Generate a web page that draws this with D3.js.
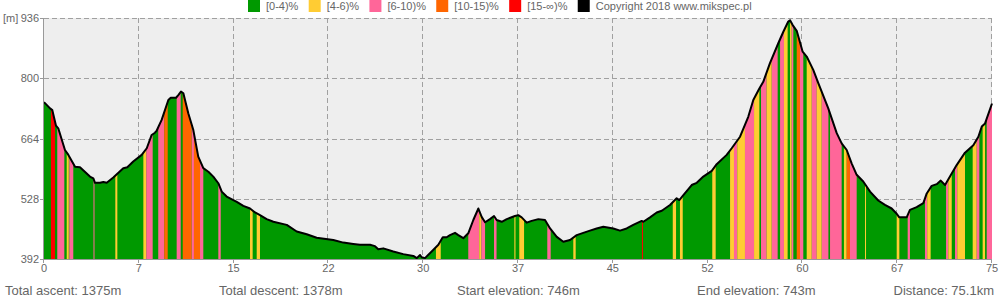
<!DOCTYPE html>
<html>
<head>
<meta charset="utf-8">
<script src="https://cdn.jsdelivr.net/npm/d3@7/dist/d3.min.js"></script>
<style>
body { margin: 0; background: #fff; }
text { font-family: Arial, "Liberation Sans", sans-serif; }
</style>
</head>
<body>
<svg id="chart" width="1000" height="300"></svg>
<script>
// profile: distance (km) and elevation (m)
var distKm = [0.00,0.48,0.66,0.95,1.13,1.66,1.93,2.46,2.85,3.64,3.91,4.04,4.44,4.70,4.97,5.49,6.28,6.60,7.07,7.74,
  8.14,8.53,8.79,8.93,9.32,9.85,10.04,10.46,10.64,10.85,11.04,11.43,11.83,12.22,12.62,13.02,13.41,13.81,14.08,14.47,
  15.27,15.79,16.32,16.72,17.11,17.64,18.17,19.23,20.02,20.81,21.60,22.92,23.71,24.50,25.03,25.83,26.22,26.48,26.88,27.67,
  28.46,29.26,29.53,29.79,29.92,30.18,30.71,31.24,31.59,31.90,32.16,32.56,32.82,33.22,33.61,34.01,34.41,34.67,34.94,35.33,
  35.65,35.86,36.26,36.66,37.31,37.57,37.84,38.24,38.63,39.16,39.69,40.09,40.62,41.14,41.67,42.20,42.72,43.25,43.78,44.31,
  45.10,45.63,46.16,46.68,47.35,47.48,48.01,48.54,48.94,49.59,50.12,50.33,50.65,51.31,51.71,52.23,52.90,53.29,54.08,54.48,
  55.14,55.79,56.19,56.67,56.98,57.51,58.17,58.57,58.96,59.10,59.31,59.63,60.10,60.42,60.94,61.34,62.13,62.80,63.19,63.59,
  63.98,64.38,64.90,65.44,66.09,66.62,67.15,67.55,67.76,68.34,68.60,69.13,69.66,69.93,70.32,70.72,71.04,71.38,71.77,72.30,
  72.96,73.62,74.02,74.29,74.55,75.10];
var elevM = [746,732,728,693,687,638,627,600,599,578,574,564,564,566,564,576,597,599,612,627,
  642,672,677,682,706,751,756,756,762,770,766,721,683,623,597,589,578,563,544,533,
  521,512,506,497,491,482,476,469,454,448,440,435,429,426,424,424,421,414,416,409,
  403,399,394,401,396,394,409,424,441,441,446,451,446,439,450,480,506,487,475,482,
  489,480,476,482,489,491,486,474,478,482,480,461,442,431,435,446,451,456,461,465,
  461,456,461,469,478,476,486,497,501,514,529,525,536,559,564,578,591,606,627,642,
  668,713,751,777,792,834,879,905,928,931,920,907,860,849,819,789,732,676,653,638,
  608,582,567,544,524,514,506,494,486,486,503,509,518,540,557,561,569,559,578,604,
  632,649,668,691,698,743];

// gradient class stripes (class index into gradeNames), everything else is class 0
var stripeFrom = [0.55,1.05,1.80,2.00,3.92,5.65,7.87,8.10,9.05,9.53,10.51,10.99,11.70,11.88,12.36,13.81,16.32,16.85,31.05,33.61,
  34.48,34.64,35.65,37.26,37.65,39.87,41.93,47.37,49.81,50.38,52.94,54.35,54.66,54.92,55.53,56.25,56.80,57.25,57.65,58.31,
  58.62,59.10,59.23,59.63,59.89,60.42,60.82,61.22,61.61,62.27,63.37,63.59,63.85,65.04,67.55,68.42,69.79,69.97,71.46,71.64,
  72.17,72.35,73.57,73.89,74.36,74.68];
var stripeTo = [0.87,1.61,1.96,2.32,4.00,5.81,8.10,8.61,9.53,9.80,10.83,11.70,11.88,12.36,12.62,14.00,16.53,17.11,31.43,34.48,
  34.64,34.94,35.85,37.35,38.03,40.14,42.12,47.45,50.07,50.60,53.21,54.66,54.92,55.53,56.25,56.67,57.25,57.65,58.12,58.62,
  58.91,59.23,59.36,59.89,60.15,60.82,61.22,61.61,62.14,63.19,63.59,63.85,64.38,65.12,67.76,68.60,69.97,70.24,71.64,71.91,
  72.35,72.96,73.89,74.10,74.55,75.10];
var stripeCls = [4,2,1,2,2,1,1,2,2,3,2,3,2,3,2,2,1,1,1,2,
  1,2,2,1,1,2,1,4,1,1,1,1,2,1,2,1,2,1,2,2,
  1,1,2,3,2,1,2,1,2,2,1,3,2,1,1,2,2,1,2,1,
  2,1,1,2,1,2];

var gradeNames = ["[0-4)%", "[4-6)%", "[6-10)%", "[10-15)%", "[15-\u221e)%"];
var gradeColors = ["#009900", "#ffcc33", "#ff6699", "#ff6600", "#ff0000"];
var copyright = "Copyright 2018 www.mikspec.pl";

var yTicks = [392, 528, 664, 800, 936];
var totalDist = 75.1;
var statLabels = ["Total ascent: 1375m", "Total descent: 1378m", "Start elevation: 746m", "End elevation: 743m", "Distance: 75.1km"];

var svg = d3.select("#chart");
var pL = 44, pR = 992, pT = 18, pB = 259;

var x = d3.scaleLinear().domain([0, totalDist]).range([pL, pR]);
var y = d3.scaleLinear().domain([392, 936]).range([pB, pT]);

var pts = distKm.map(function(d, i) { return [d, elevM[i]]; });

// plot background
svg.append("rect").attr("x", pL).attr("y", pT)
  .attr("width", pR - pL).attr("height", pB - pT).attr("fill", "#eeeeee");

// grid
var xTicks = d3.range(11).map(function(i) { return i * totalDist / 10; });
var grid = svg.append("g").attr("stroke", "#a0a0a0").attr("stroke-dasharray", "5,3").attr("stroke-width", 1);
grid.selectAll("line.gx").data(xTicks.slice(1)).enter().append("line")
  .attr("x1", function(d) { return Math.round(x(d)) - 0.5; }).attr("x2", function(d) { return Math.round(x(d)) - 0.5; })
  .attr("y1", pT).attr("y2", pB);
grid.selectAll("line.gy").data(yTicks.slice(1)).enter().append("line")
  .attr("y1", function(d) { return Math.round(y(d)) + 0.5; }).attr("y2", function(d) { return Math.round(y(d)) + 0.5; })
  .attr("x1", pL).attr("x2", pR);

// area
var area = d3.area().x(function(d) { return x(d[0]); }).y0(y(392)).y1(function(d) { return y(d[1]); });
var line = d3.line().x(function(d) { return x(d[0]); }).y(function(d) { return y(d[1]); });

svg.append("clipPath").attr("id", "profclip").append("path").attr("d", area(pts));
svg.append("path").attr("d", area(pts)).attr("fill", gradeColors[0]);

svg.append("g").attr("clip-path", "url(#profclip)")
  .selectAll("rect").data(stripeFrom).enter().append("rect")
  .attr("x", function(d) { return x(d); })
  .attr("width", function(d, i) { return x(stripeTo[i]) - x(d); })
  .attr("y", pT).attr("height", pB - pT)
  .attr("fill", function(d, i) { return gradeColors[stripeCls[i]]; });

svg.append("path").attr("d", line(pts)).attr("fill", "none")
  .attr("stroke", "#000").attr("stroke-width", 2).attr("stroke-linejoin", "round");

// axes
var axes = svg.append("g").attr("stroke", "#999").attr("stroke-width", 1);
axes.append("line").attr("x1", pL - 0.5).attr("x2", pL - 0.5).attr("y1", pT).attr("y2", pB + 4);
axes.append("line").attr("x1", pL - 4).attr("x2", pR).attr("y1", pB + 0.5).attr("y2", pB + 0.5);
axes.selectAll("line.ty").data(yTicks).enter().append("line")
  .attr("x1", pL - 4).attr("x2", pL)
  .attr("y1", function(d) { return Math.round(y(d)) + 0.5; }).attr("y2", function(d) { return Math.round(y(d)) + 0.5; });
axes.selectAll("line.tx").data(xTicks).enter().append("line")
  .attr("x1", function(d) { return Math.round(x(d)) - 0.5; }).attr("x2", function(d) { return Math.round(x(d)) - 0.5; })
  .attr("y1", pB).attr("y2", pB + 4);

svg.selectAll("text.yl").data(yTicks).enter().append("text")
  .attr("x", pL - 5).attr("y", function(d) { return y(d) + 4; })
  .attr("text-anchor", "end").attr("font-size", 11).attr("fill", "#666")
  .text(function(d) { return d; });
svg.append("text").attr("x", 3).attr("y", y(936) + 4).attr("font-size", 11).attr("fill", "#666").text("[m]");

svg.selectAll("text.xl").data(xTicks).enter().append("text")
  .attr("x", function(d) { return x(d); }).attr("y", 272)
  .attr("text-anchor", "middle").attr("font-size", 11).attr("fill", "#666")
  .text(function(d) { return Math.floor(d); });

// legend
var legItems = gradeNames.map(function(n, i) { return { name: n, color: gradeColors[i] }; });
legItems.push({ name: copyright, color: "#000" });
var lx = 248;
legItems.forEach(function(it) {
  svg.append("rect").attr("x", lx).attr("y", 0).attr("width", 12).attr("height", 12).attr("fill", it.color);
  var t = svg.append("text").attr("x", lx + 18).attr("y", 10).attr("font-size", 11).attr("fill", "#666").text(it.name);
  lx += 18 + t.node().getComputedTextLength() + 10.3;
});

// stats
var statX = [5, 219, 457, 697, 994];
svg.selectAll("text.st").data(statLabels).enter().append("text")
  .attr("x", function(d, i) { return statX[i]; }).attr("y", 295)
  .attr("text-anchor", function(d, i) { return i == statLabels.length - 1 ? "end" : "start"; })
  .attr("font-size", 13).attr("fill", "#666")
  .text(function(d) { return d; });
</script>
</body>
</html>
